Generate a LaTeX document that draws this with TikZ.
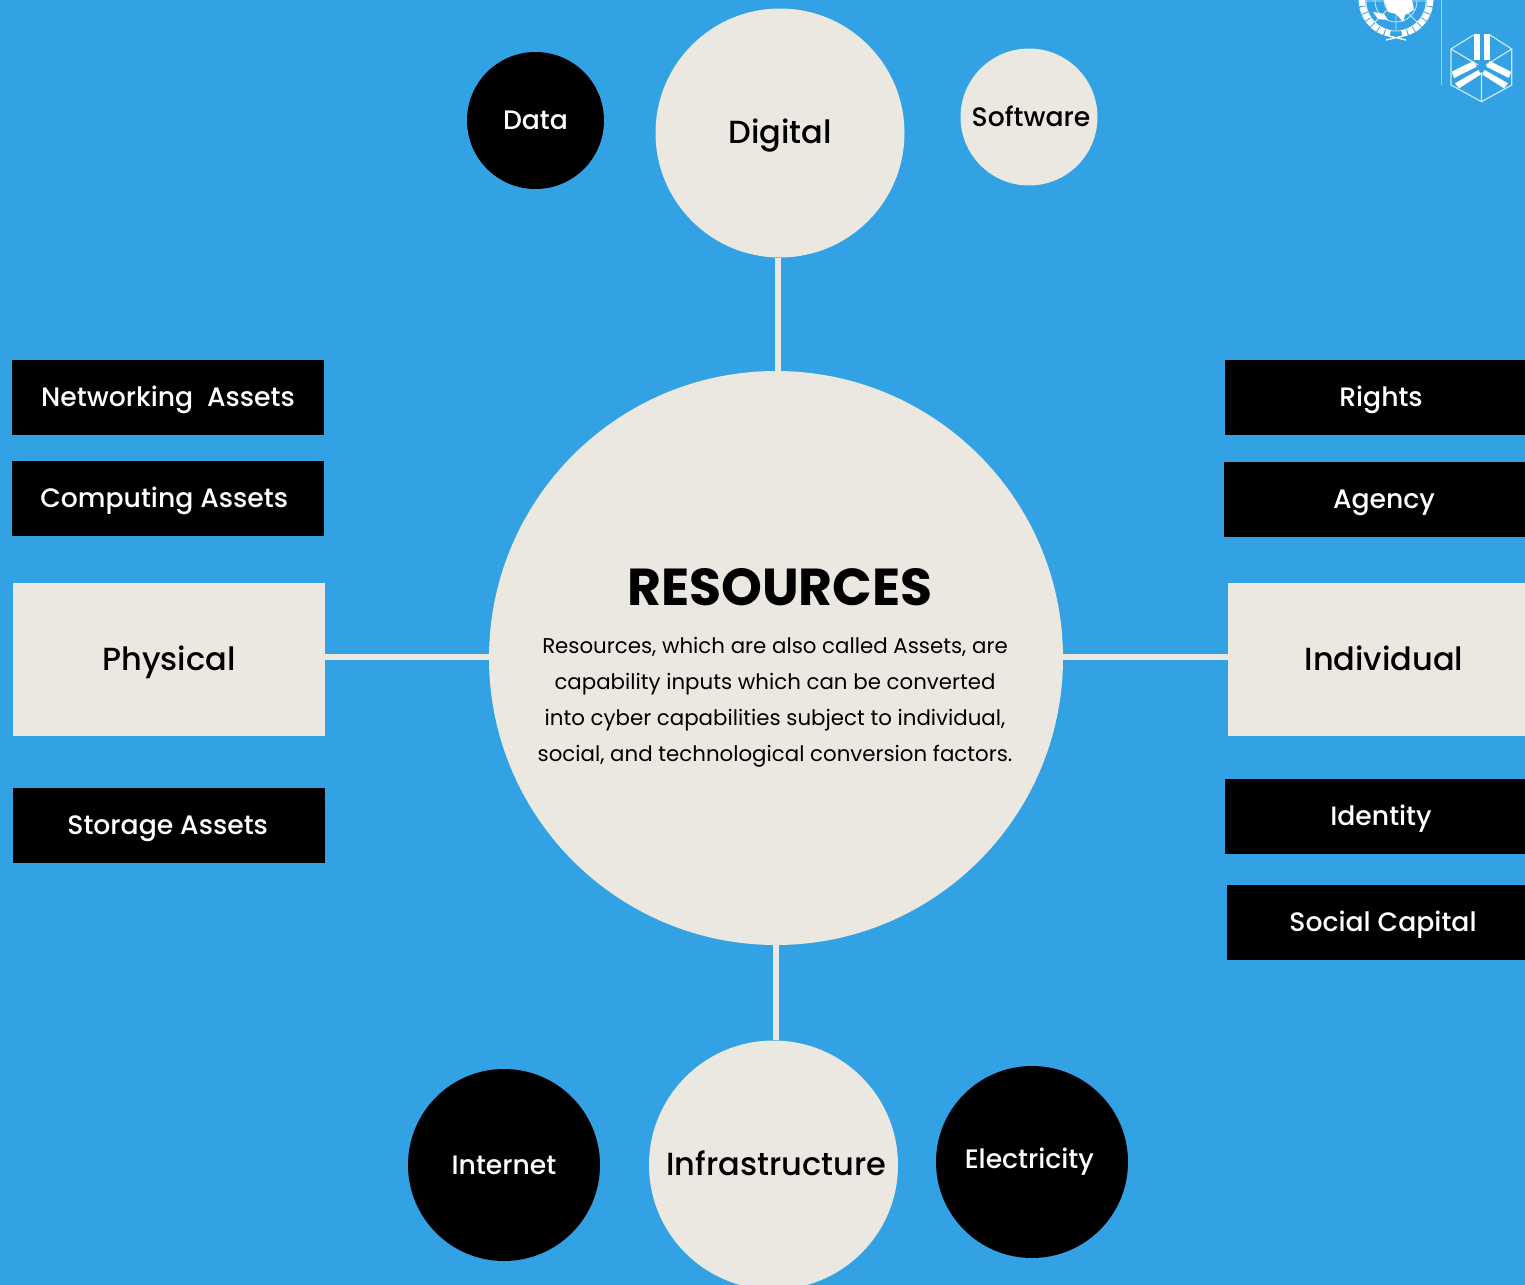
\documentclass[tikz,border=0pt]{standalone}
\usepackage{fontspec}
\setmainfont{Poppins}
\newfontfamily\medfont{Poppins Medium}
\definecolor{skyback}{HTML}{32A2E4}
\definecolor{paper}{HTML}{EAE8E0}
\tikzset{
    x=0.75pt, y=-0.75pt,
    bigdisc/.style={circle, fill=paper, text=black, inner sep=0pt, text height=15pt, text depth=0pt, font=\medfont\fontsize{24}{28}\selectfont},
    smalldisc/.style={circle, fill=black, text=white, inner sep=0pt, text height=14pt, text depth=0pt, font=\medfont\fontsize{20}{24}\selectfont},
    darkbox/.style={fill=black, text=white, minimum width=234pt, minimum height=56.25pt, inner sep=0pt, text height=14pt, text depth=0pt, font=\medfont\fontsize{20}{24}\selectfont},
    palebox/.style={fill=paper, text=black, minimum width=234pt, minimum height=114.75pt, inner sep=0pt, text height=16pt, text depth=0pt, font=\medfont\fontsize{24}{28}\selectfont},
    spoke/.style={draw=paper, line width=4.5pt},
    crest/.style={draw=white!75!skyback, line width=0.9pt},
    leaf/.style={draw=white, line width=5pt, dash pattern=on 4.5pt off 0.8pt},
}

\begin{document}
\begin{tikzpicture}
    \useasboundingbox (0,0) rectangle (1525,1285);
    \clip (0,0) rectangle (1525,1285);
    \fill[skyback] (0,0) rectangle (1525,1285);

    % spokes first, discs go on top
    \coordinate (topgap) at (778,300);
    \coordinate (bottomgap) at (776,1000);
    \coordinate (leftgap) at (400,657);
    \coordinate (rightgap) at (1150,657);

    \node[circle, fill=paper, minimum size=430.5pt, inner sep=0pt] (resources) at (776,658) {};
    \node[bigdisc, minimum size=186.75pt] (digital) at (780,133) {Digital};
    \node[bigdisc, minimum size=186.75pt] (infra) at (773.5,1165) {\hspace{4pt}Infrastructure};
    \node[palebox] (physical) at (169,659.5) {Physical};
    \node[palebox] (individual) at (1384,659.5) {Individual};

    \draw[spoke] (topgap |- digital.south) -- (topgap |- resources.north);
    \draw[spoke] (bottomgap |- resources.south) -- (bottomgap |- infra.north);
    \draw[spoke] (physical.east |- leftgap) -- (resources.west |- leftgap);
    \draw[spoke] (resources.east |- rightgap) -- (individual.west |- rightgap);

    \node[smalldisc, minimum size=102.75pt] (data) at (535.5,120.5) {Data};
    \node[bigdisc, text height=14pt, font=\medfont\fontsize{20}{24}\selectfont, minimum size=102.75pt] (software) at (1029,117) {\hspace{3pt}Software};
    \node[smalldisc, minimum size=144pt] (internet) at (504,1165) {Internet};
    \node[smalldisc, minimum size=144pt] (electricity) at (1032,1162) {\raisebox{2.25pt}{Electricity}\kern4pt};

    \node[darkbox] (networking) at (168,397.5) {Networking\ \ Assets};
    \node[darkbox] (computing) at (167.5,498.5) {Computing Assets\kern5pt};
    \node[darkbox] (storage) at (169,825.5) {Storage Assets\kern2pt};
    \node[darkbox] (rights) at (1381,397.5) {Rights};
    \node[darkbox] (agency) at (1380,499.5) {\hspace{6pt}Agency};
    \node[darkbox] (identity) at (1381,816.5) {Identity};
    \node[darkbox] (social) at (1383,922.5) {Social Capital};

    \node[font=\fontsize{39}{44}\bfseries\selectfont] (title) at (780,587) {RESOURCES};
    \node[align=center, font=\fontsize{16}{27}\selectfont, inner sep=0pt] (blurb) at (775,702) {Resources, which are also called Assets, are\\capability inputs which can be converted\\into cyber capabilities subject to individual,\\social, and technological conversion factors.};

    % emblem, cut by the top edge
    \draw[crest, line width=0.6pt] (1396,1) circle (30) circle (21) circle (12);
    \draw[crest, line width=0.6pt] (1366,1) -- (1426,1) (1396,-29) -- (1396,31) (1375,22) -- (1417,-20) (1417,22) -- (1375,-20);
    \fill[white] (1384,0) -- (1412,0) -- (1414,10) -- (1405,15) -- (1403,22) -- (1396,14) -- (1388,12) -- cycle;
    \fill[white] (1373,12) -- (1384,14) -- (1388,20) -- (1378,19) -- cycle;
    \draw[leaf] (1362,0) arc[start angle=180, end angle=100, radius=34];
    \draw[leaf] (1430,0) arc[start angle=0, end angle=80, radius=34];
    \draw[white, line width=1pt] (1386,40) -- (1403,36) (1406,40) -- (1389,36);
    \draw[white!50!skyback, line width=1.1pt] (1441.5,0) -- (1441.5,85);

    % hexagon mark
    \draw[crest] (1473.5,35) -- (1451,49) -- (1451,85) -- (1481.5,101.7) -- (1511.7,85) -- (1511.7,49) -- (1490,35);
    \draw[crest] (1451,49) -- (1478,65) (1511.7,49) -- (1486,65) (1481.5,72) -- (1481.5,101.7);
    \fill[white] (1473.5,34) rectangle (1479.5,60);
    \fill[white] (1484,34) rectangle (1490,60);
    \fill[white] (1451.7,71.7) -- (1473.3,61) -- (1476.7,66.7) -- (1454,78) -- cycle;
    \fill[white] (1511,71.7) -- (1489.7,61) -- (1486.3,66.7) -- (1509,78) -- cycle;
    \fill[white] (1455,83.3) -- (1478.3,70) -- (1481,74.3) -- (1459,88.3) -- cycle;
    \fill[white] (1508,83.3) -- (1484.7,70) -- (1482,74.3) -- (1504,88.3) -- cycle;
\end{tikzpicture}
\end{document}
